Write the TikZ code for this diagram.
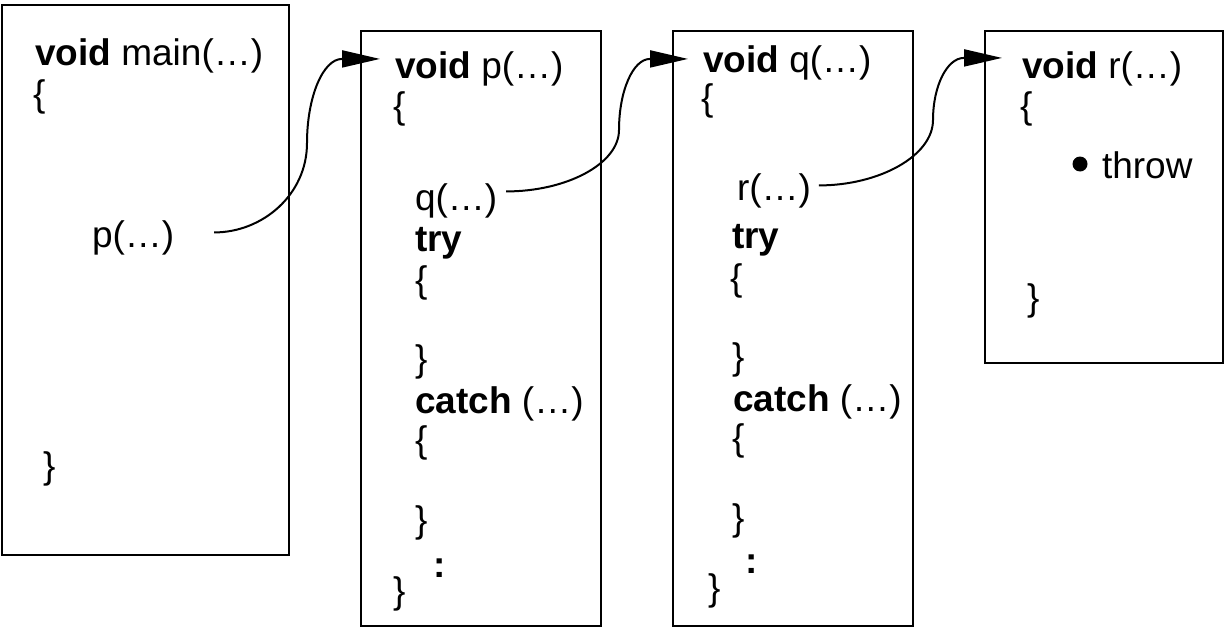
\documentclass[tikz,border=0pt]{standalone}
\usepackage{fontspec}
\setmainfont{Liberation Sans}
\usetikzlibrary{arrows.meta}
\begin{document}
\begin{tikzpicture}[x=1pt,y=-1pt,
  frame/.style={draw, line width=2pt, inner sep=0pt, outer sep=0pt, anchor=north west},
  code/.style={anchor=base west, inner sep=0pt, outer sep=0pt, font=\fontsize{37}{40}\selectfont},
  call/.style={-{Triangle[length=38pt,width=17pt]}, line width=2pt}]
\useasboundingbox (0,0) rectangle (1225,629);

% stack frames
\node[frame, minimum width=287pt, minimum height=550pt] (mainbox) at (2,5) {};
\node[frame, minimum width=240pt, minimum height=595pt] (pbox) at (361,31) {};
\node[frame, minimum width=240pt, minimum height=595pt] (qbox) at (673,31) {};
\node[frame, minimum width=238pt, minimum height=332pt] (rbox) at (985,31) {};

% main
\node[code] (voidmain) at (35,65) {\textbf{void} main(…)};
\node[code] at (33,106) {\{};
\node[code] (callp) at (92,247) {p(…)};
\node[code] at (43,478) {\}};

% p
\node[code] (voidp) at (395,78) {\textbf{void} p(…)};
\node[code] at (393,118) {\{};
\node[code] (callq) at (415,210) {q(…)};
\node[code] at (415,251) {\textbf{try}};
\node[code] at (415,292) {\{};
\node[code] at (415,371) {\}};
\node[code] at (415,413) {\textbf{catch} (…)};
\node[code] at (415,452) {\{};
\node[code] at (415,532) {\}};
\node[code] at (433,577) {\textbf{:}};
\node[code] at (393,603) {\}};

% q
\node[code] (voidq) at (703,72) {\textbf{void} q(…)};
\node[code] at (701,110) {\{};
\node[code] (callr) at (737,200) {r(…)};
\node[code] at (732,248) {\textbf{try}};
\node[code] at (730,290) {\{};
\node[code] at (732,369) {\}};
\node[code] at (733,411) {\textbf{catch} (…)};
\node[code] at (732,450) {\{};
\node[code] at (732,530) {\}};
\node[code] at (745,573) {\textbf{:}};
\node[code] at (708,600) {\}};

% r
\node[code] (voidr) at (1022,78) {\textbf{void} r(…)};
\node[code] at (1020,118) {\{};
\node[circle, fill, inner sep=0pt, minimum size=15pt] (dot) at (1080,164) {};
\node[code] (throw) at (1102,178) {throw};
\node[code] at (1027,310) {\}};

% call arrows
\coordinate (sp) at ([xshift=40pt,yshift=5pt]callp.east);
\coordinate (kp) at (307,143);
\coordinate (tp) at ([xshift=-15pt,yshift=9.5pt]voidp.west);
\coordinate (bp) at ([xshift=-38pt]tp);
\draw[call] (sp) .. controls +(48,0) and +(0,52) .. (kp)
  .. controls +(0,-46) and +(-19,0) .. (bp) -- (tp);

\coordinate (sq) at ([xshift=9pt,yshift=9pt]callq.east);
\coordinate (kq) at (619,130);
\coordinate (tq) at ([xshift=-15pt,yshift=3.5pt]voidq.west);
\coordinate (bq) at ([xshift=-38pt]tq);
\draw[call] (sq) .. controls +(60,0) and +(0,34) .. (kq)
  .. controls +(0,-39) and +(-17,0) .. (bq) -- (tq);

\coordinate (sr) at ([xshift=8pt,yshift=5pt]callr.east);
\coordinate (kr) at (933,120);
\coordinate (tr) at ([xshift=-20pt,yshift=10.5pt]voidr.west);
\coordinate (br) at ([xshift=-38pt]tr);
\draw[call] (sr) .. controls +(60,0) and +(0,36) .. (kr)
  .. controls +(0,-34) and +(-17,0) .. (br) -- (tr);
\end{tikzpicture}
\end{document}
